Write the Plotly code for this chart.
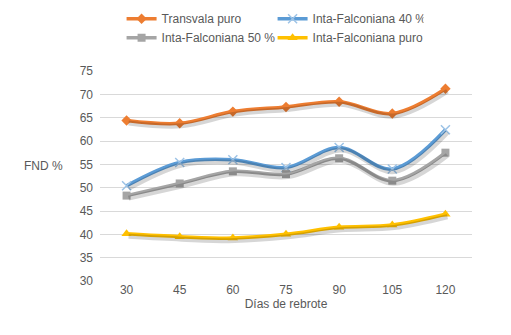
import plotly.graph_objects as go

dias = ["30", "45", "60", "75", "90", "105", "120"]
transvala_puro = [64.4, 63.8, 66.3, 67.3, 68.4, 65.9, 71.2]
falconiana_40 = [50.4, 55.4, 56.0, 54.3, 58.6, 54.0, 62.4]
falconiana_50 = [48.3, 50.9, 53.5, 52.9, 56.3, 51.5, 57.5]
falconiana_puro = [40.1, 39.5, 39.2, 40.0, 41.5, 42.0, 44.3]

series = [
    ("Transvala puro", transvala_puro, "#ED7D31", dict(symbol="diamond", size=8, color="#ED7D31")),
    ("Inta-Falconiana 40 %", falconiana_40, "#5B9BD5", dict(symbol="x-thin", size=9, color="#5B9BD5", line=dict(color="#9DC3E6", width=1.5))),
    ("Inta-Falconiana 50 %", falconiana_50, "#A5A5A5", dict(symbol="square", size=8, color="#A5A5A5")),
    ("Inta-Falconiana puro", falconiana_puro, "#FFC000", dict(symbol="triangle-up", size=9, color="#FFC000")),
]

fig = go.Figure()
# subtle shadows (same data, drawn on shifted overlay axes)
for name, vals, col, mk in series:
    fig.add_trace(go.Scatter(x=dias, y=vals, mode="lines", xaxis="x2", yaxis="y2",
                             line=dict(color="rgba(0,0,0,0.16)", width=5, shape="spline"),
                             showlegend=False, hoverinfo="skip"))
for name, vals, col, mk in series:
    fig.add_trace(go.Scatter(x=dias, y=vals, name=name, mode="lines+markers",
                             line=dict(color=col, width=3.5, shape="spline"),
                             marker=mk))

px_per_unit = 210 / 45.0
fig.update_layout(
    width=511, height=335,
    margin=dict(l=100, r=39, t=71, b=54, autoexpand=False),
    paper_bgcolor="white", plot_bgcolor="white",
    font=dict(family="Liberation Sans, Arial, sans-serif", size=12, color="#595959"),
    showlegend=True,
    legend=dict(orientation="h", x=0.058, y=1.318, xanchor="left", yanchor="top",
                entrywidth=106, entrywidthmode="pixels", tracegroupgap=0,
                font=dict(size=12, color="#595959"), bgcolor="rgba(0,0,0,0)"),
    xaxis=dict(type="category", range=[-0.5, 6.5], showgrid=False, showline=False,
               ticks="", tickfont=dict(size=12, color="#595959"),
               title=dict(text="Días de rebrote", font=dict(size=12, color="#595959"), standoff=2)),
    yaxis=dict(range=[30, 75], dtick=5, showgrid=True, gridcolor="#D9D9D9", gridwidth=1,
               zeroline=False, showline=False, ticks="", ticklabelstandoff=6,
               tickfont=dict(size=12, color="#595959")),
    xaxis2=dict(type="category", overlaying="x", range=[-0.5 - 2 / 53.1, 6.5 - 2 / 53.1],
                visible=False),
    yaxis2=dict(overlaying="y", range=[30 + 2.5 / px_per_unit, 75 + 2.5 / px_per_unit],
                visible=False),
    annotations=[dict(text="FND %", xref="paper", yref="paper", x=-0.095, y=0.55,
                      xanchor="right", yanchor="middle", showarrow=False,
                      font=dict(size=12, color="#595959"))],
)

fig.write_html("out.html")
